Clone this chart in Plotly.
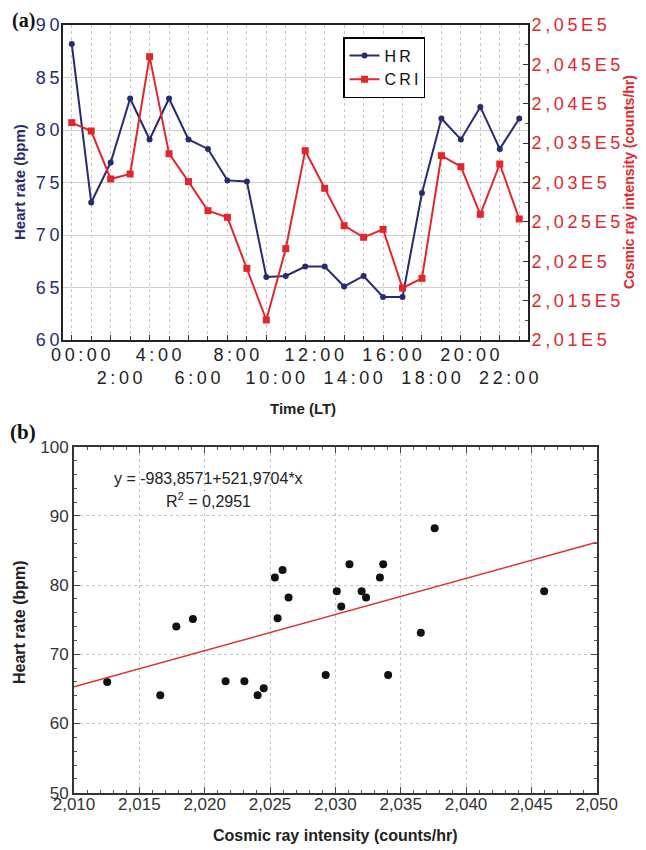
import plotly.graph_objects as go

# ---------------- data ----------------
hours = list(range(24))
hour_labels = ["00:00", "2:00", "4:00", "6:00", "8:00", "10:00",
               "12:00", "14:00", "16:00", "18:00", "20:00", "22:00"]
hr = [88.2, 73.1, 76.9, 83.0, 79.1, 83.0, 79.1, 78.2, 75.2, 75.1, 66.0, 66.1,
      67.0, 67.0, 65.1, 66.1, 64.1, 64.1, 74.0, 81.1, 79.1, 82.2, 78.2, 81.1]
cri = [203760, 203654, 203045, 203108, 204598, 203366, 203011, 202642,
       202558, 201910, 201254, 202160, 203404, 202926, 202452, 202304,
       202405, 201660, 201783, 203341, 203201, 202596, 203235, 202537]
cri_ticks = [201000, 201500, 202000, 202500, 203000, 203500, 204000, 204500, 205000]
fit_intercept = -983.8571
fit_slope = 521.9704
fit_r2 = 0.2951

W, H = 646, 850
OFF = 8  # page body margin in the browser
NAVY = "#272b73"
RED = "#e3262d"
TS = "\u2009"  # thin space used to mimic letter spacing


def spaced(s):
    return TS.join(list(s))


def e5_label(v):
    s = f"{v / 1e5:.3f}".rstrip("0").replace(".", ",")
    return spaced(s + "E5")


def px_x(p):
    return (p - OFF) / W


def px_y(p):
    return 1 - (p - OFF) / H


fig = go.Figure()

# ---------------- (a) time series ----------------
fig.add_trace(go.Scatter(
    x=hours, y=hr, name=spaced("HR"), mode="lines+markers",
    line=dict(color=NAVY, width=2), marker=dict(symbol="circle", size=6, color=NAVY),
    xaxis="x", yaxis="y"))
fig.add_trace(go.Scatter(
    x=hours, y=cri, name=spaced("CRI"), mode="lines+markers",
    line=dict(color=RED, width=2), marker=dict(symbol="square", size=7, color=RED),
    xaxis="x", yaxis="y2"))

# ---------------- (b) scatter ----------------
cri_e5 = [c / 1e5 for c in cri]
fig.add_trace(go.Scatter(
    x=cri_e5, y=hr, mode="markers", showlegend=False,
    marker=dict(color="#111111", size=8), xaxis="x3", yaxis="y3"))
x_fit = [2.010, 2.050]
fig.add_trace(go.Scatter(
    x=x_fit, y=[fit_intercept + fit_slope * v for v in x_fit], mode="lines",
    showlegend=False, line=dict(color="#e03030", width=1.5), xaxis="x3", yaxis="y3"))

top_dom_y = [px_y(340), px_y(25)]
top_dom_x = [px_x(63), px_x(528)]
bot_dom_y = [px_y(792.7), px_y(446.7)]
bot_dom_x = [px_x(74), px_x(596.7)]

tick_font_top = dict(family="Liberation Sans, Arial", size=18)

xticktext = []
for i, h in enumerate(range(0, 24, 2)):
    lab = spaced(hour_labels[i])
    xticktext.append(lab if i % 2 == 0 else "<br>" + lab)

fig.update_layout(
    width=W, height=H, margin=dict(l=0, r=0, t=0, b=0, autoexpand=False),
    paper_bgcolor="white", plot_bgcolor="white",
    separators=",.",
    showlegend=True,
    legend=dict(x=px_x(343), y=px_y(37), xanchor="left", yanchor="top",
                bordercolor="black", borderwidth=1.5, bgcolor="white",
                font=dict(family="Liberation Sans, Arial", size=16, color="#111"),
                tracegroupgap=0, itemwidth=30),
    xaxis=dict(domain=top_dom_x, anchor="y", range=[-0.45, 23.45], automargin=False,
               tickvals=list(range(0, 24, 2)), ticktext=xticktext, tickangle=0,
               tickfont=dict(tick_font_top, color="#222"), ticklabelshift=9,
               ticklabelstandoff=-3,
               ticks="inside", ticklen=5, tickcolor="#333",
               minor=dict(dtick=1, ticks="inside", ticklen=4, tickcolor="#333",
                          showgrid=True, gridcolor="#c8c8c8", griddash="dot", gridwidth=1),
               showgrid=True, gridcolor="#c8c8c8", griddash="dot", gridwidth=1,
               showline=True, linecolor="#222", linewidth=2, mirror=True, zeroline=False),
    yaxis=dict(domain=top_dom_y, anchor="x", range=[60, 90], automargin=False,
               tickvals=[60, 65, 70, 75, 80, 85, 90],
               ticktext=[spaced(str(v)) for v in [60, 65, 70, 75, 80, 85, 90]],
               tickfont=dict(tick_font_top, color=NAVY), ticklabelstandoff=-2,
               ticks="", showgrid=True, gridcolor="#cfcfcf", gridwidth=1,
               showline=True, linecolor="#222", linewidth=2, zeroline=False),
    yaxis2=dict(overlaying="y", side="right", anchor="x", range=[201000, 205000],
                automargin=False,
                tickvals=cri_ticks, ticktext=[e5_label(v) for v in cri_ticks],
                tickfont=dict(tick_font_top, color=RED), ticklabelstandoff=-2,
                ticks="inside", ticklen=5, tickcolor="#333",
                minor=dict(dtick=250, ticks="inside", ticklen=3, tickcolor="#555"),
                showgrid=False, showline=True, linecolor="#222", linewidth=2,
                zeroline=False),
    xaxis3=dict(domain=bot_dom_x, anchor="y3", range=[2.010, 2.050], dtick=0.005,
                tick0=2.010, tickformat=".3f", automargin=False, tickangle=0,
                tickfont=dict(family="Liberation Sans, Arial", size=17, color="#333"),
                ticklabelstandoff=-5,
                ticks="inside", ticklen=6, tickcolor="#444",
                minor=dict(dtick=0.001, ticks="inside", ticklen=3, tickcolor="#555"),
                showgrid=True, gridcolor="#c4c4c4", griddash="dot", gridwidth=1,
                showline=True, linecolor="#333", linewidth=2, mirror="allticks",
                zeroline=False),
    yaxis3=dict(domain=bot_dom_y, anchor="x3", range=[50, 100], dtick=10,
                automargin=False,
                tickfont=dict(family="Liberation Sans, Arial", size=17, color="#333"),
                ticks="inside", ticklen=6, tickcolor="#444",
                minor=dict(dtick=2, ticks="inside", ticklen=3, tickcolor="#555"),
                showgrid=True, gridcolor="#c4c4c4", griddash="dot", gridwidth=1,
                showline=True, linecolor="#333", linewidth=2, mirror="allticks",
                zeroline=False),
)


def label(text, x, y, size, color, family="Liberation Sans, Arial", angle=0):
    return dict(text=text, x=px_x(x), y=px_y(y), xref="paper", yref="paper",
                xanchor="center", yanchor="middle", showarrow=False, textangle=angle,
                font=dict(family=family, size=size, color=color))


serif = "Liberation Serif, Times New Roman"
eq = f"y = {fit_intercept:.4f}+{fit_slope:.4f}*x".replace(".", ",")
r2 = f"R<sup>2</sup> = {fit_r2:.4f}".replace(".", ",")
ann = [
    label("<b>(a)</b>", 23, 21, 20, "#111", serif),
    label("<b>(b)</b>", 23, 432, 21, "#111", serif),
    label("<b>Heart rate (bpm)</b>", 19, 182, 15, NAVY, angle=-90),
    label("<b>Cosmic ray intensity (counts/hr)</b>", 629, 182, 14, RED, angle=-90),
    label("<b>Time (LT)</b>", 303, 409, 15, "#222"),
    label("<b>Heart rate (bpm)</b>", 19, 622, 16, "#222", angle=-90),
    label("<b>Cosmic ray intensity (counts/hr)</b>", 335, 835, 16, "#222"),
    label(eq, 208, 478, 16, "#222"),
    label(r2, 208, 500, 16, "#222"),
]
fig.update_layout(annotations=ann)

fig.write_html("out.html")
